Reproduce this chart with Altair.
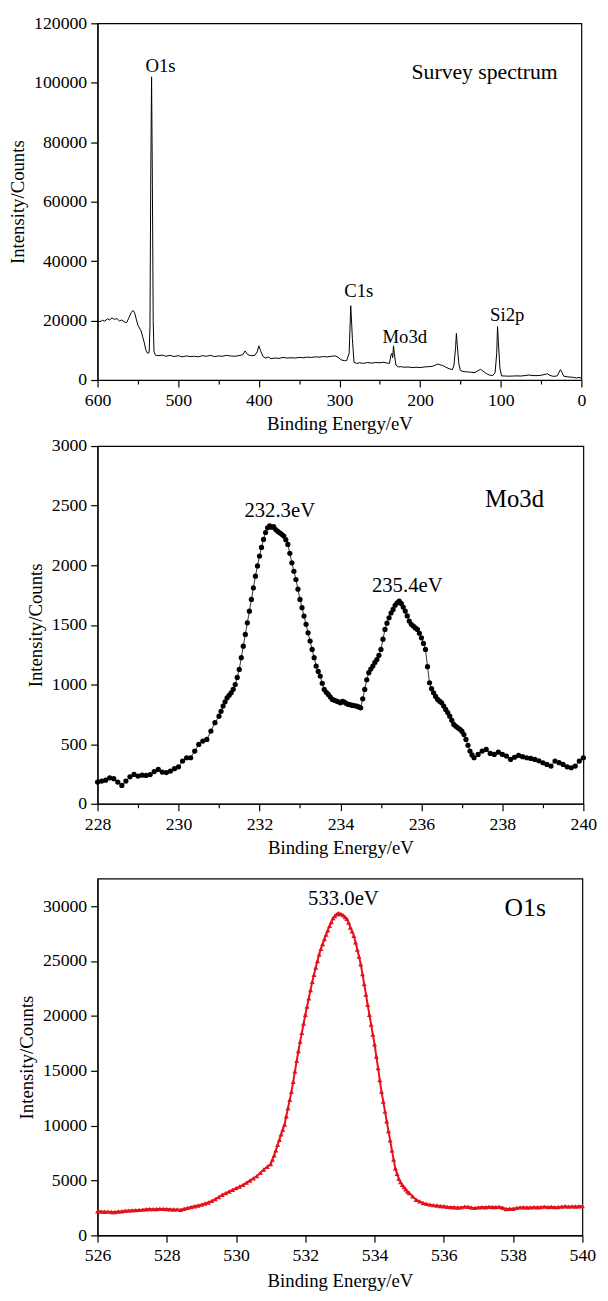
import altair as alt
import pandas as pd
import numpy as np

FONT = "Liberation Serif"

# ---------------- Survey spectrum (top) ----------------
survey_be = [600, 597, 594, 591, 588, 585, 582, 579, 576, 573, 570, 567, 564, 561, 558, 556, 554, 552, 550, 548,
             546, 544, 542, 540, 538, 536, 535, 534, 533, 532, 531, 530, 528, 525, 520, 515, 510, 505, 500, 495,
             490, 485, 480, 475, 470, 465, 460, 455, 450, 445, 440, 435, 430, 425, 420, 417, 414, 410, 405, 402,
             400, 398, 395, 392, 388, 385, 380, 375, 370, 365, 360, 355, 350, 345, 340, 335, 330, 325, 320, 315,
             310, 305, 302, 298, 294, 291, 288, 286, 284, 282, 279, 275, 270, 265, 260, 255, 250, 245, 241, 238,
             236, 235, 234, 233, 232, 230, 227, 223, 220, 215, 210, 205, 200, 195, 190, 185, 181, 178, 175, 172,
             168, 164, 160, 158, 156, 155, 154, 152, 150, 147, 144, 140, 136, 132, 128, 125, 122, 119, 116, 113,
             110, 107, 105, 104, 103, 101, 99, 95, 90, 85, 80, 75, 70, 65, 60, 55, 50, 45, 42, 40,
             36, 33, 30, 28, 26, 24, 22, 18, 14, 10, 6, 3, 0]
survey_counts = [20000, 19600, 20100, 19800, 20600, 20300, 20900, 20400, 20700, 19900, 20200, 19600, 19300, 21000, 22800, 23400, 22600, 20500, 18500, 17500,
                 16500, 14500, 12500, 10000, 9000, 9300, 18000, 70000, 102000, 65000, 20000, 9500, 8300, 8200, 8400, 8000, 8300, 7900, 8200, 7800,
                 8100, 7900, 8000, 7800, 8200, 8000, 8300, 7900, 8100, 8000, 8300, 8100, 8000, 8200, 8500, 9800, 8600, 8200, 8300, 9500,
                 11500, 10000, 8000, 7400, 7700, 7200, 7400, 7300, 7600, 7400, 7500, 7400, 7600, 7500, 7700, 7600, 7800, 7700, 7900, 7800,
                 8000, 8100, 7700, 6800, 6500, 6600, 9000, 25000, 14000, 6000, 5600, 5800, 5600, 5900, 5700, 5900, 5800, 6000, 5700, 5600,
                 8500, 9000, 7500, 11500, 9000, 5000, 4400, 4500, 4300, 4400, 4200, 4300, 4200, 4400, 4500, 4600, 5000, 5400, 5100, 4900,
                 4300, 3800, 3500, 5000, 11000, 15700, 12000, 5500, 3200, 2900, 2800, 2700, 2600, 2500, 3200, 3600, 3000, 2400, 1900, 1600,
                 1500, 2500, 9000, 18000, 13000, 4000, 1400, 1350, 1300, 1350, 1400, 1350, 1500, 1700, 1500, 1500, 1600, 1900, 2100, 1700,
                 1300, 1250, 1400, 2400, 3500, 2600, 1300, 1100, 1000, 900, 700, 900, 600]

survey_labels = ["O1s", "C1s", "Mo3d", "Si2p", "Survey spectrum"]
survey_label_x = [522, 276, 219, 92, 120]
survey_label_y = [105500, 29800, 14600, 21900, 103700]
survey_label_size = [19, 19, 19, 19, 22]

# ---------------- Mo3d (middle) ----------------
mo_a_start, mo_a_step = 228.0, 0.1
mo_a_counts = [182, 190, 198, 218, 210, 182, 154, 190, 226, 246,
               232, 240, 238, 245, 270, 288, 266, 262, 274, 294,
               310, 358, 386, 386, 442, 498, 526, 540, 610, 680]
mo_b_start, mo_b_step = 231.0, 0.05
mo_b_counts = [735, 775, 819, 855, 889, 910, 931, 960, 1000, 1060,
               1127, 1225, 1322, 1420, 1518, 1615, 1714, 1810, 1909, 1995,
               2077, 2150, 2217, 2275, 2315, 2330, 2320, 2325, 2300, 2285,
               2273, 2260, 2245, 2215, 2175, 2100, 2021, 1950, 1881, 1800,
               1714, 1645, 1574, 1505, 1434, 1365, 1294, 1225, 1155, 1110,
               1071, 1010, 959, 935, 917, 895, 875, 868, 861, 855,
               847, 858, 852, 840, 833, 830, 825, 822, 819, 812,
               805, 880, 959, 1040, 1099, 1130, 1155, 1185, 1210, 1245,
               1294, 1380, 1462, 1515, 1560, 1600, 1630, 1665, 1686, 1700,
               1680, 1650, 1616, 1575, 1532, 1505, 1490, 1475, 1462, 1430,
               1392, 1345, 1294, 1150, 1015, 965, 931, 900, 875, 860,
               847, 820, 791, 765, 735, 700, 665, 650, 637, 625,
               609, 580, 540, 490, 442, 410, 386]
mo_c_start, mo_c_step = 237.4, 0.1
mo_c_counts = [414, 442, 456, 422, 414, 433, 414, 400, 372, 390,
               405, 395, 386, 380, 372, 360, 344, 330, 316, 358,
               345, 330, 310, 302, 316, 358, 386]

mo_labels = ["232.3eV", "235.4eV", "Mo3d"]
mo_label_x = [232.5, 235.65, 238.3]
mo_label_y = [2455, 1826, 2552]
mo_label_size = [21, 21, 25]

# ---------------- O1s (bottom) ----------------
o_a_start, o_a_step = 526.0, 0.1
o_a_counts = [2190, 2170, 2150, 2160, 2130, 2130, 2180, 2200, 2240, 2260,
              2280, 2300, 2320, 2340, 2380, 2400, 2390, 2400, 2420, 2410,
              2400, 2380, 2360, 2370, 2330, 2430, 2500, 2580, 2650, 2720,
              2800, 2900, 3000, 3150, 3300, 3500, 3700, 3850, 4000, 4150,
              4300, 4450, 4600, 4800, 5000, 5200, 5400, 5700, 6000, 6250]
o_b_start, o_b_step = 531.0, 0.05
o_b_counts = [6500, 6900, 7300, 7750, 8260, 8700, 9200, 9650, 10100, 10850,
              11600, 12350, 13100, 14000, 14950, 15900, 16800, 17650, 18450, 19300,
              20100, 20850, 21600, 22350, 23100, 23750, 24400, 25000, 25600, 26100,
              26550, 27000, 27400, 27800, 28200, 28550, 28900, 29100, 29250, 29350,
              29300, 29250, 29150, 29000, 28850, 28500, 28050, 27700, 27300, 26700,
              26050, 25400, 24700, 23800, 22900, 21950, 21000, 20100, 19200, 18300,
              17400, 16300, 15250, 14150, 13100, 12200, 11300, 10400, 9500, 8650,
              7750, 6900, 6100, 5600, 5150, 4850, 4600, 4400, 4200, 4000, 3860]
o_c_start, o_c_step = 535.1, 0.1
o_c_counts = [3550, 3250, 3100, 2950, 2870, 2800, 2750, 2720, 2680, 2650,
              2600, 2580, 2560, 2540, 2550, 2620, 2600, 2530, 2500, 2550,
              2580, 2560, 2600, 2590, 2580, 2600, 2520, 2400, 2430, 2430,
              2500, 2550, 2560, 2540, 2550, 2570, 2560, 2580, 2620, 2580,
              2600, 2570, 2590, 2620, 2650, 2620, 2640, 2630, 2650, 2680]

o_labels = ["533.0eV", "O1s"]
o_label_x = [533.1, 538.35]
o_label_y = [30600, 29850]
o_label_size = [21, 26]

RED = "#e3121b"


def segment(start, step, counts):
    xs = [round(start + i * step, 3) for i in range(len(counts))]
    return pd.DataFrame({"be": xs, "counts": counts})


def make_axis(vals, major, title, title_pad, label_pad):
    test = f"abs(datum.value % {major}) < 1e-6"
    return alt.Axis(
        values=vals, title=title, grid=False, format="d",
        labelExpr=f"{test} ? datum.label : ''",
        tickSize={"condition": {"test": test, "value": 7}, "value": 4},
        labelFlush=False, labelOverlap=False, labelPadding=label_pad,
        titlePadding=title_pad,
        labelFont=FONT, titleFont=FONT, labelFontSize=18, titleFontSize=19,
        labelColor="black", titleColor="black", titleFontWeight="normal",
        domainColor="black", domainWidth=1.2, tickColor="black", tickWidth=1.2,
    )


def panel(df, xdom, ydom, xvals, xmajor, yvals, ymajor, w, h, base_marks, texts,
          reverse=False, xtitle_pad=5):
    x = alt.X("be:Q", scale=alt.Scale(domain=xdom, reverse=reverse, nice=False, zero=False),
              axis=make_axis(xvals, xmajor, "Binding Energy/eV", xtitle_pad, 5))
    y = alt.Y("counts:Q", scale=alt.Scale(domain=ydom, nice=False),
              axis=make_axis(yvals, ymajor, "Intensity/Counts", 6, 4))
    layers = [m.encode(x=x, y=y) for m in base_marks(alt.Chart(df))]
    for t in texts:
        layers.append(t)
    return alt.layer(*layers).properties(width=w, height=h)


def text_layer(xs, ys, labels, sizes):
    d = pd.DataFrame({"be": xs, "counts": ys, "t": labels, "s": sizes})
    return alt.Chart(d).mark_text(font=FONT, color="black").encode(
        x="be:Q", y="counts:Q", text="t:N", size=alt.Size("s:Q", scale=None, legend=None))


# top
survey_df = pd.DataFrame({"be": survey_be, "counts": survey_counts})
top = panel(survey_df, [0, 600], [0, 120000], list(range(0, 601, 50)), 100,
            list(range(0, 120001, 10000)), 20000, 491, 362,
            lambda c: [c.mark_line(color="black", strokeWidth=1)],
            [text_layer(survey_label_x, survey_label_y, survey_labels, survey_label_size)], reverse=True)

# middle
mo_df = pd.concat([segment(mo_a_start, mo_a_step, mo_a_counts),
                   segment(mo_b_start, mo_b_step, mo_b_counts),
                   segment(mo_c_start, mo_c_step, mo_c_counts)], ignore_index=True)
mid = panel(mo_df, [228, 240], [0, 3000], list(range(228, 241)), 2,
            list(range(0, 3001, 250)), 500, 493, 363,
            lambda c: [c.mark_line(color="black", strokeWidth=0.8),
                       c.mark_circle(color="black", size=28, opacity=1)],
            [text_layer(mo_label_x, mo_label_y, mo_labels, mo_label_size)])

# bottom
o_df = pd.concat([segment(o_a_start, o_a_step, o_a_counts),
                  segment(o_b_start, o_b_step, o_b_counts),
                  segment(o_c_start, o_c_step, o_c_counts)], ignore_index=True)
bot = panel(o_df, [526, 540], [0, 32500], list(range(526, 541)), 2,
            list(range(0, 30001, 2500)), 5000, 492, 362,
            lambda c: [c.mark_line(color=RED, strokeWidth=2),
                       c.mark_point(shape="triangle-up", color=RED, filled=True, size=26, opacity=1)],
            [text_layer(o_label_x, o_label_y, o_labels, o_label_size)], xtitle_pad=7)

chart = alt.vconcat(alt.vconcat(top, mid, spacing=2), bot, spacing=20).properties(
    padding={"left": 8, "top": 4, "right": 10, "bottom": 5}, background="white"
).configure_view(stroke="black", strokeWidth=1.2)

chart.save("out.html", embed_options={"renderer": "svg", "actions": False})
